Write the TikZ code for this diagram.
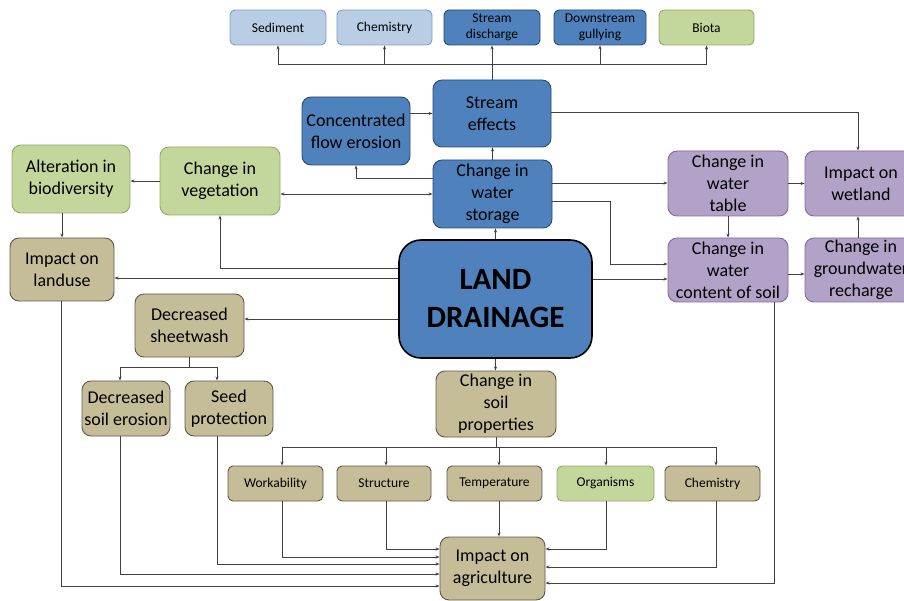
\documentclass[tikz,border=0pt]{standalone}
\usepackage{fontspec}
\setmainfont{Carlito}
\usetikzlibrary{arrows.meta}

\definecolor{dblue}{HTML}{4F81BD}
\definecolor{dblueline}{HTML}{2A4A75}
\definecolor{lblue}{HTML}{B9CDE5}
\definecolor{lblueline}{HTML}{7F9DC6}
\definecolor{lgreen}{HTML}{C3D69B}
\definecolor{lgreenline}{HTML}{93AB66}
\definecolor{soilfill}{HTML}{C4BD97}
\definecolor{soilline}{HTML}{5E5948}
\definecolor{lpurple}{HTML}{B3A2C7}
\definecolor{lpurpleline}{HTML}{7F6A9E}
\definecolor{wire}{HTML}{404040}

\tikzset{
    box/.style={draw, line width=0.9pt, rounded corners=9pt, align=center, inner sep=0pt,
        font=\fontsize{18}{22}\selectfont},
    smallbox/.style={draw, line width=0.9pt, rounded corners=5pt, align=center, inner sep=0pt,
        minimum width=95pt, minimum height=35pt, font=\fontsize{13.5}{16}\selectfont},
    bluebox/.style={fill=dblue, draw=dblueline},
    lightbox/.style={fill=lblue, draw=lblueline},
    greenbox/.style={fill=lgreen, draw=lgreenline},
    soilbox/.style={fill=soilfill, draw=soilline},
    purplebox/.style={fill=lpurple, draw=lpurpleline},
    link/.style={draw=wire, line width=0.7pt},
    arr/.style={link, -{Stealth[length=4pt, width=3pt]}},
    arrboth/.style={link, {Stealth[length=4pt, width=3pt]}-{Stealth[length=4pt, width=3pt]}}
}

\begin{document}
\begin{tikzpicture}[x=1pt, y=-1pt]
    \useasboundingbox (0,0) rectangle (904,601);

    \node[smallbox, lightbox, minimum width=96pt] (sed) at (278,27.5) {Sediment};
    \node[smallbox, lightbox] (chemtop) at (384.5,27.5) {Chemistry};
    \node[smallbox, bluebox, minimum width=96pt] (disch) at (492,27.5) {Stream\\discharge};
    \node[smallbox, bluebox, minimum width=92pt] (gully) at (600,27.5) {Downstream\\gullying};
    \node[smallbox, greenbox] (biota) at (706.5,27.5) {Biota};

    \node[box, bluebox, minimum width=118pt, minimum height=67pt] (streff) at (492,113.5) {Stream\\effects};
    \node[box, bluebox, minimum width=108pt, minimum height=68pt] (conc) at (356,131) {Concentrated\\flow erosion};
    \node[box, bluebox, minimum width=119pt, minimum height=68pt] (storage) at (492.5,194) {Change in\\water\\storage};
    \node[box, greenbox, minimum width=120pt, minimum height=68pt] (veg) at (220,181) {Change in\\vegetation};
    \node[box, greenbox, minimum width=118pt, minimum height=68pt] (biodiv) at (71,179) {Alteration in\\biodiversity};
    \node[box, soilbox, minimum width=104pt, minimum height=63pt] (landuse) at (62,269.5) {Impact on\\landuse};
    \node[box, bluebox, draw=black, line width=1.6pt, rounded corners=22pt, minimum width=193pt, minimum height=118pt,
        font=\fontsize{31}{38}\selectfont\bfseries] (land) at (495.5,299) {LAND\\DRAINAGE};
    \node[box, soilbox, minimum width=109pt, minimum height=63pt] (sheet) at (189.5,325.5) {Decreased\\sheetwash};
    \node[box, soilbox, minimum width=88pt, minimum height=55pt] (soilero) at (126,408.5) {Decreased\\soil erosion};
    \node[box, soilbox, minimum width=88pt, minimum height=55pt] (seed) at (229,408.5) {Seed\\protection};
    \node[box, soilbox, minimum width=120pt, minimum height=66pt] (soilprop) at (496,404) {Change in\\soil\\properties};

    \node[smallbox, soilbox] (work) at (275.5,483.5) {Workability};
    \node[smallbox, soilbox, minimum width=94pt] (struct) at (384,483.5) {Structure};
    \node[smallbox, soilbox] (temp) at (494.5,483.5) {Temperature};
    \node[smallbox, greenbox, minimum width=97pt] (org) at (605.5,483.5) {Organisms};
    \node[smallbox, soilbox] (chembot) at (712.5,483.5) {Chemistry};
    \node[box, soilbox, minimum width=105pt, minimum height=63pt] (agri) at (492.5,568.5) {Impact on\\agriculture};

    \node[box, purplebox, minimum width=120pt, minimum height=65pt] (wtable) at (728,183.5) {Change in\\water\\table};
    \node[box, purplebox, minimum width=112pt, minimum height=65pt] (wetland) at (861,183.5) {Impact on\\wetland};
    \node[box, purplebox, minimum width=120pt, minimum height=64pt] (wcontent) at (728,270) {Change in\\water\\content of soil};
    \node[box, purplebox, minimum width=112pt, minimum height=64pt] (gwater) at (861,270) {Change in\\groundwater\\recharge};

    \coordinate (topbus) at (492,64);
    \draw[link] (sed.south|-topbus) -- (biota.south|-topbus);
    \foreach \n in {sed,chemtop,gully,biota}
        \draw[arr] (\n.south|-topbus) -- (\n.south);
    \draw[arr] (streff.north) -- (disch.south);

    \draw[arr] (conc.east|-streff.west) -- (streff.west);
    \draw[arr] (storage.north) -- (storage.north|-streff.south);
    \draw[arr] ([yshift=16pt]storage.west) -| (conc.south);
    \draw[arrboth] (storage.west) -- (veg.east|-storage.west);
    \draw[arr] (veg.west) -- (biodiv.east|-veg.west);
    \draw[arr] (landuse.north|-biodiv.south) -- (landuse.north);
    \draw[arr] (land.west|-0,268) -| (veg.south);
    \draw[arr] (land.west|-0,278) -- (landuse.east|-0,278);
    \draw[arr] (land.west|-0,319) -- (sheet.east|-0,319);

    \coordinate (sbus) at (sheet.south|-0,367);
    \draw[link] (sheet.south) -- (sbus);
    \draw[arr] (sbus) -| (soilero.north-|120,0);
    \draw[arr] (sbus) -| (seed.north-|217,0);

    \draw[arr] (land.north) -- (land.north|-storage.south);
    \draw[arr] (land.south) -- (land.south|-soilprop.north);

    \coordinate (bbus) at (soilprop.south|-0,447);
    \draw[link] (soilprop.south) -- (bbus);
    \draw[link] (bbus-|282,0) -- (bbus-|716,0);
    \foreach \n/\x in {work/282, struct/386, temp/499, org/606, chembot/716}
        \draw[arr] (bbus-|\x,0) -- (\n.north-|\x,0);

    \draw[arr] (temp.south-|499,0) -- (agri.north-|499,0);
    \draw[arr] (struct.south-|386,0) |- (agri.west|-0,549);
    \draw[arr] (work.south-|282,0) |- (agri.west|-0,557);
    \draw[arr] (seed.south-|217,0) |- (agri.west|-0,564);
    \draw[arr] (soilero.south-|120,0) |- (agri.west|-0,574);
    \draw[arr] (landuse.south-|61,0) |- (agri.west|-0,586);
    \draw[arr] (org.south-|606,0) |- (agri.east|-0,549);
    \draw[arr] (chembot.south-|716,0) |- (agri.east|-0,567);
    \draw[arr] (wcontent.south-|774,0) |- (agri.east|-0,583);

    \draw[arr] (streff.east|-0,112) -| (wetland.north-|858,0);
    \draw[arr] (storage.east|-0,183) -- (wtable.west|-0,183);
    \draw[arr] (storage.east|-0,201) -- ++(58,0) |- (wcontent.west|-0,264);
    \draw[arr] (land.east|-0,279) -- (wcontent.west|-0,279);
    \draw[arr] (wtable.south) -- (wcontent.north);
    \draw[arr] (wtable.east) -- (wetland.west);
    \draw[arr] (wcontent.east|-0,274) -- (gwater.west|-0,274);
    \draw[arr] (gwater.north-|858,0) -- (wetland.south-|858,0);
\end{tikzpicture}
\end{document}
